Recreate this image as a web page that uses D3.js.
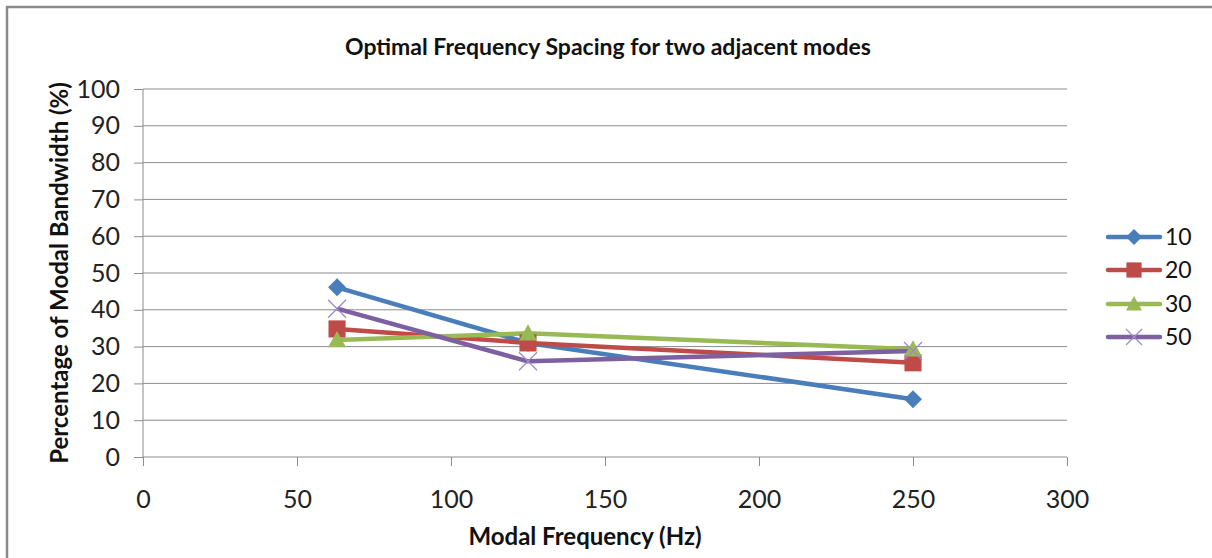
<!DOCTYPE html>
<html>
<head>
<meta charset="utf-8">
<script src="https://cdn.jsdelivr.net/npm/d3@7"></script>
<style>
  body { margin: 0; background: #fff; overflow: hidden; }
  svg { display: block; }
  text { font-family: Lato, "Open Sans", sans-serif; }
</style>
</head>
<body>
<svg id="chart"></svg>
<script>
var frequencies = [63, 125, 250];
var seriesNames = ["10", "20", "30", "50"];
var series10 = [46.1, 31, 15.7];
var series20 = [34.8, 31, 25.6];
var series30 = [31.8, 33.6, 29.3];
var series50 = [40.3, 26, 28.8];
var xTicks = [0, 50, 100, 150, 200, 250, 300];
var yTicks = [0, 10, 20, 30, 40, 50, 60, 70, 80, 90, 100];

var colors = ["#4a7ebb", "#be4b48", "#98b954", "#7d60a0"];
var symbols = ["diamond", "square", "triangle", "x"];

var W = 1212, H = 558;
var margins = { top: 89, left: 143, right: 145, bottom: 101 };

var svg = d3.select("#chart").attr("width", W).attr("height", H);

// outer frame (only top and left edges visible)
svg.append("path")
  .attr("d", "M7," + (H + 5) + "V7H" + (W + 5))
  .attr("fill", "none")
  .attr("stroke", "#8a8a8a")
  .attr("stroke-width", 2.5);

var xScale = d3.scaleLinear().domain([0, 300]).range([margins.left, W - margins.right]);
var yScale = d3.scaleLinear().domain([0, 100]).range([H - margins.bottom, margins.top]);

svg.append("text")
  .attr("x", 608).attr("y", 55)
  .attr("text-anchor", "middle")
  .attr("font-size", 23).attr("font-weight", "bold")
  .attr("fill", "#111")
  .text("Optimal Frequency Spacing for two adjacent modes");

// gridlines
svg.append("g")
  .selectAll("line")
  .data(yTicks.slice(1))
  .enter().append("line")
  .attr("x1", xScale(0)).attr("x2", xScale(300))
  .attr("y1", function(d) { return yScale(d); })
  .attr("y2", function(d) { return yScale(d); })
  .attr("stroke", "#8c8c8c").attr("stroke-width", 1);

var yAxis = d3.axisLeft(yScale).tickValues(yTicks).tickSize(9).tickPadding(14);
var xAxis = d3.axisBottom(xScale).tickValues(xTicks).tickSize(9).tickPadding(24);

var gy = svg.append("g")
  .attr("transform", "translate(" + xScale(0) + ",0)")
  .call(yAxis);
var gx = svg.append("g")
  .attr("transform", "translate(0," + yScale(0) + ")")
  .call(xAxis);

[gx, gy].forEach(function(g) {
  g.selectAll("path, line").attr("stroke", "#8c8c8c");
  g.selectAll("text").attr("font-size", 25).attr("fill", "#222")
    .style("font-family", "Lato, sans-serif");
});
gy.select(".domain").attr("d", "M0," + yScale(100) + "V" + yScale(0));
gx.select(".domain").attr("d", "M" + xScale(0) + ",0H" + xScale(300));

svg.append("text")
  .attr("x", 585).attr("y", 545)
  .attr("text-anchor", "middle")
  .attr("font-size", 24).attr("font-weight", "bold")
  .attr("fill", "#111")
  .text("Modal Frequency (Hz)");

svg.append("text")
  .attr("transform", "translate(68," + yScale(50) + ") rotate(-90)")
  .attr("text-anchor", "middle")
  .attr("font-size", 24).attr("font-weight", "bold")
  .attr("fill", "#111")
  .text("Percentage of Modal Bandwidth (%)");

var allSeries = [series10, series20, series30, series50];

var drawLine = d3.line()
  .x(function(d, i) { return xScale(frequencies[i]); })
  .y(function(d) { return yScale(d); });

// s = marker half size
var drawMarker = function(g, kind, color, s) {
  if (kind == "x") {
    g.append("path")
      .attr("d", "M" + (-s) + "," + (-s) + "L" + s + "," + s + "M" + (-s) + "," + s + "L" + s + "," + (-s))
      .attr("stroke", "#a08cc4").attr("stroke-width", 1.3).attr("fill", "none");
    return;
  }
  var d;
  if (kind == "diamond") d = "M0," + (-s) + "L" + s + ",0L0," + s + "L" + (-s) + ",0Z";
  else if (kind == "square") d = "M" + (-s * 0.95) + "," + (-s * 0.95) + "h" + (1.9 * s) + "v" + (1.9 * s) + "h" + (-1.9 * s) + "Z";
  else d = "M0," + (-s) + "L" + s + "," + (s * 0.8) + "L" + (-s) + "," + (s * 0.8) + "Z";
  g.append("path").attr("d", d).attr("fill", color);
};

allSeries.forEach(function(vals, k) {
  svg.append("path")
    .datum(vals)
    .attr("d", drawLine)
    .attr("fill", "none")
    .attr("stroke", colors[k])
    .attr("stroke-width", 4.5)
    .attr("stroke-linejoin", "round");
});

allSeries.forEach(function(vals, k) {
  vals.forEach(function(v, i) {
    var g = svg.append("g")
      .attr("transform", "translate(" + xScale(frequencies[i]) + "," + yScale(v) + ")");
    drawMarker(g, symbols[k], colors[k], 9);
  });
});

// legend
var legendY = [237, 270, 304, 337];
seriesNames.forEach(function(name, k) {
  var g = svg.append("g").attr("transform", "translate(0," + legendY[k] + ")");
  g.append("line")
    .attr("x1", 1108).attr("x2", 1160)
    .attr("stroke", colors[k]).attr("stroke-width", 4.5)
    .attr("stroke-linecap", "round");
  var m = g.append("g").attr("transform", "translate(1134,0)");
  drawMarker(m, symbols[k], colors[k], 8);
  g.append("text")
    .attr("x", 1165).attr("y", 8)
    .attr("font-size", 23).attr("fill", "#111")
    .text(name);
});
</script>
</body>
</html>
